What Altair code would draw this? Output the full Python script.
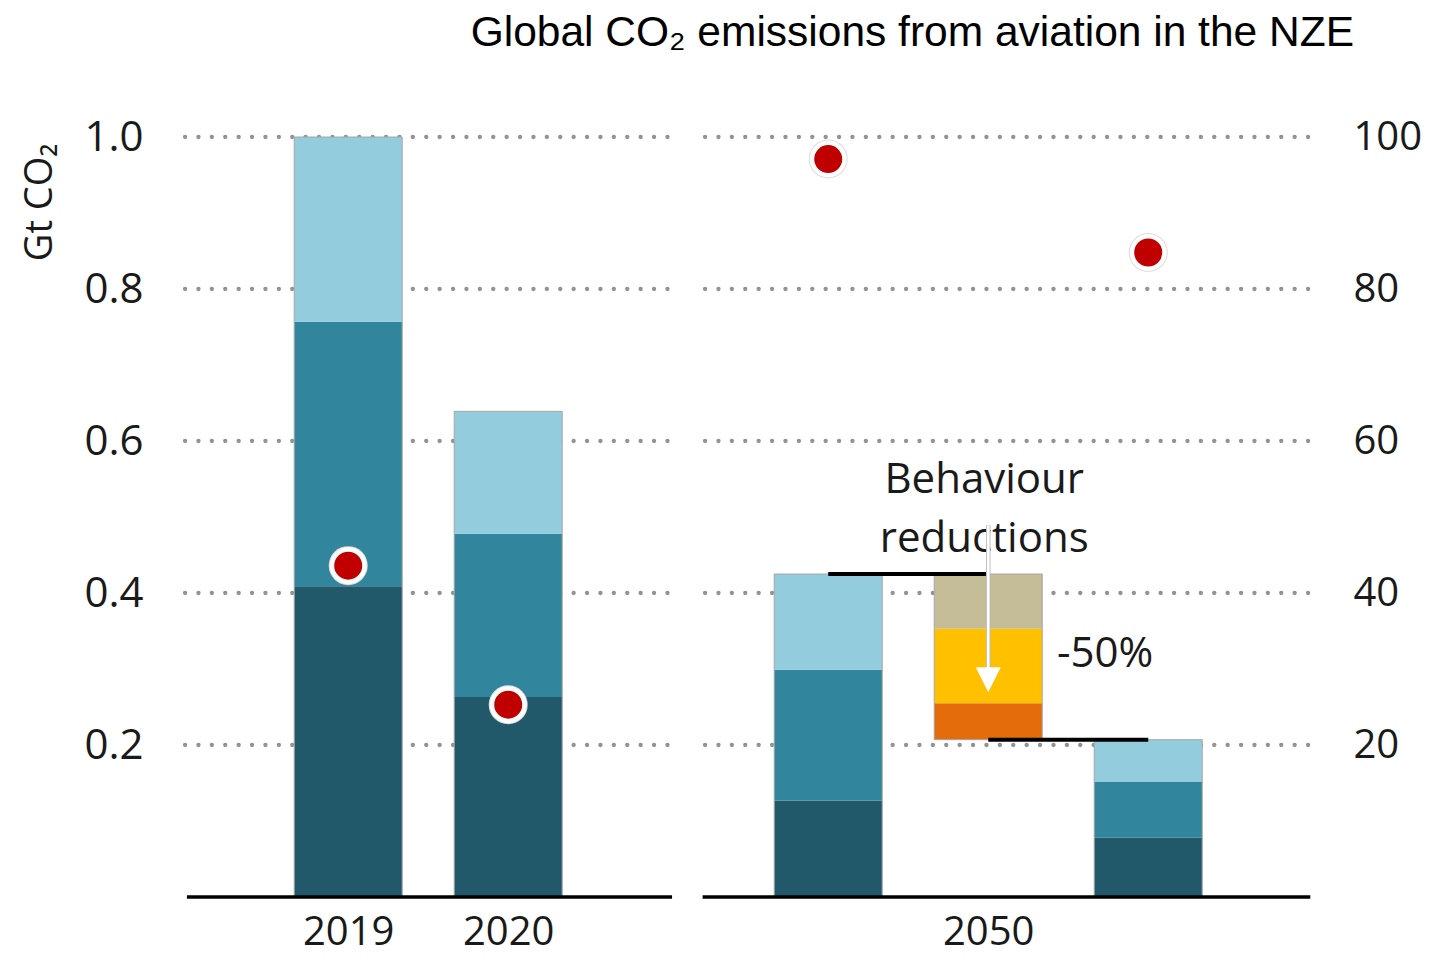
import altair as alt
import pandas as pd

# ---------------- data ----------------
left_years = ["2019", "2020"]
left_pos = [1, 2]
left_dark = [0.409, 0.263]
left_mid = [0.348, 0.215]
left_light = [0.243, 0.161]
left_index = [43.6, 25.3]            # red dots, right-hand scale

right_year = "2050"
right_pos = [4, 5, 6]                # no-behaviour bar, behaviour reductions, NZE bar
nobeh_vals = [0.127, 0.172, 0.126]   # dark, mid, light
beh_base = 0.207
beh_vals = [0.048, 0.098, 0.072]     # orange, yellow, tan
nze_vals = [0.078, 0.074, 0.055]     # dark, mid, light
right_index_pos = [4, 6]
right_index = [97.1, 84.8]

grid_vals = [0.2, 0.4, 0.6, 0.8, 1.0]
right_ticks = [20, 40, 60, 80, 100]

teal_segs = ["dark", "mid", "light"]
beh_segs = ["orange", "yellow", "tan"]
seg_colors = {"dark": "#22596A", "mid": "#31859C", "light": "#93CDDD",
              "orange": "#E46C0A", "yellow": "#FFC000", "tan": "#C4BD97"}

annot_text = ["Behaviour", "reductions"]
annot_x = [5, 5]
annot_y = [0.532, 0.454]
pct_text = ["-50%"]
pct_x = [5.43]
pct_y = [0.303]
arrow_top, arrow_end, arrow_head = 0.489, 0.30, 0.286

# panel extents on the shared x scale (grid and baseline)
panel_grid = [(-0.02, 3.024), (3.23, 7.0)]
panel_base = [(-0.008, 3.024), (3.215, 7.013)]
XDOM = [-0.02, 7.011]

# ---------------- tables ----------------
def stack(pos, vals, segs, base=0.0):
    rows, cur = [], base
    for v, s in zip(vals, segs):
        rows.append({"pos": pos, "seg": s, "y0": cur, "y1": cur + v})
        cur += v
    return rows

rows = []
for p, d, m, l in zip(left_pos, left_dark, left_mid, left_light):
    rows += stack(p, [d, m, l], teal_segs)
rows += stack(right_pos[0], nobeh_vals, teal_segs)
rows += stack(right_pos[1], beh_vals, beh_segs, beh_base)
rows += stack(right_pos[2], nze_vals, teal_segs)
seg_df = pd.DataFrame(rows)
tot_df = seg_df.groupby("pos").agg(y0=("y0", "min"), y1=("y1", "max")).reset_index()

nobeh_total = beh_base + sum(beh_vals)
nze_total = sum(nze_vals)
conn_df = pd.DataFrame({"x": [right_pos[0], right_pos[1]],
                        "x2": [right_pos[1], right_pos[2]],
                        "y": [nobeh_total, nze_total]})

grid_df = pd.DataFrame([{"x": a, "x2": b, "v": v} for (a, b) in panel_grid for v in grid_vals])
base_df = pd.DataFrame([{"x": a, "x2": b, "v": 0.0} for (a, b) in panel_base])
dots_df = pd.DataFrame({"pos": left_pos + right_index_pos, "idx": left_index + right_index})
annot_df = pd.DataFrame({"t": annot_text, "x": annot_x, "y": annot_y})
pct_df = pd.DataFrame({"t": pct_text, "x": pct_x, "y": pct_y})
arrow_df = pd.DataFrame({"x": [right_pos[1]], "y": [arrow_top], "y2": [arrow_end], "h": [arrow_head]})

# ---------------- styling ----------------
FONT = "Open Sans"
TXT = "#1a1a1a"
BW = 108
color_scale = alt.Scale(domain=list(seg_colors.keys()), range=list(seg_colors.values()))
yscale = alt.Scale(domain=[0, 1], nice=False, zero=True)
iscale = alt.Scale(domain=[0, 100], nice=False)
xscale = alt.Scale(domain=XDOM, nice=False, zero=False, padding=0)

lab_vals = left_pos + [right_pos[1]]
lab_text = left_years + [right_year]
lab_expr = " : ".join([f"datum.value == {v} ? '{l}'" for v, l in zip(lab_vals, lab_text)]) + " : ''"
xaxis = alt.Axis(values=lab_vals, labelExpr=lab_expr, ticks=False, grid=False, domain=False, title=None,
                 labelFont=FONT, labelFontSize=40, labelColor=TXT, labelBaseline="alphabetic",
                 labelPadding=47)

yaxis = alt.Axis(values=grid_vals, format=".1f", ticks=False, domain=False, grid=False,
                 labelFont=FONT, labelFontSize=42, labelColor=TXT, labelPadding=42,
                 title="Gt CO₂", titleFont=FONT, titleFontSize=38, titleFontWeight="normal",
                 titleColor=TXT, titleAngle=-90, titleAlign="right", titleBaseline="alphabetic",
                 titleX=-134, titleY=6)

raxis = alt.Axis(orient="right", values=right_ticks, ticks=False, domain=False, grid=False, title=None,
                 labelFont=FONT, labelFontSize=40, labelColor=TXT, labelPadding=43)

X = lambda f: alt.X(f, type="quantitative", scale=xscale, axis=xaxis)
Y = lambda f: alt.Y(f, type="quantitative", scale=yscale, axis=yaxis)

grid = alt.Chart(grid_df).mark_rule(color="#939393", strokeWidth=4.3, strokeDash=[0.1, 13.3],
                                    strokeCap="round").encode(x=X("x"), x2="x2:Q", y=Y("v"))
bars = alt.Chart(seg_df).mark_bar(size=BW, strokeWidth=0).encode(
    x=X("pos"), y=Y("y0"), y2="y1:Q", color=alt.Color("seg:N", scale=color_scale, legend=None))
outline = alt.Chart(tot_df).mark_bar(size=BW, fillOpacity=0, stroke="#a6a6a6", strokeWidth=1).encode(
    x=X("pos"), y=Y("y0"), y2="y1:Q")
base = alt.Chart(base_df).mark_rule(color="black", strokeWidth=3.5).encode(x=X("x"), x2="x2:Q", y=Y("v"))
conn = alt.Chart(conn_df).mark_rule(color="black", strokeWidth=4).encode(x=X("x"), x2="x2:Q", y=Y("y"))
txt = alt.Chart(annot_df).mark_text(font=FONT, fontSize=42, color=TXT, baseline="alphabetic",
                                    align="center", dx=-4).encode(x=X("x"), y=Y("y"), text="t:N")
pct = alt.Chart(pct_df).mark_text(font=FONT, fontSize=42, color=TXT, baseline="alphabetic",
                                  align="left").encode(x=X("x"), y=Y("y"), text="t:N")
ar_edge = alt.Chart(arrow_df).mark_rule(color="#b5b5b5", strokeWidth=4.5).encode(
    x=X("x"), y=Y("y"), y2="y2:Q")
ar = alt.Chart(arrow_df).mark_rule(color="white", strokeWidth=2.8).encode(x=X("x"), y=Y("y"), y2="y2:Q")
head = alt.Chart(arrow_df).mark_point(shape="M-1,-1L1,-1L0,1Z", filled=True, size=625, color="white",
                                      opacity=1).encode(x=X("x"), y=Y("h"))

inner = alt.layer(grid, bars, outline, base, conn, txt, pct, ar_edge, ar, head)

halo = alt.Chart(dots_df).mark_point(shape="circle", filled=True, size=1521, color="#dcdcdc", opacity=1).encode(
    x=X("pos"), y=alt.Y("idx:Q", scale=iscale, axis=raxis))
dots = alt.Chart(dots_df).mark_point(shape="circle", filled=True, size=1056, fill="#C00000",
                                     stroke="white", strokeWidth=4.5, opacity=1).encode(
    x=X("pos"), y=alt.Y("idx:Q", scale=iscale, axis=raxis))

chart = alt.layer(inner, alt.layer(halo, dots)).resolve_scale(y="independent").properties(
    width=1125, height=760,
    autosize=alt.AutoSizeParams(type="none"),
    padding={"left": 177, "top": 129, "right": 112, "bottom": 58},
    title=alt.TitleParams("Global CO₂ emissions from aviation in the NZE", font="Liberation Sans",
                          fontSize=42.5, fontWeight="normal", color="black", anchor="end",
                          frame="group", dx=44, offset=62),
).configure_view(stroke=None)

chart.save("out.html", embed_options={"renderer": "svg", "actions": False})
